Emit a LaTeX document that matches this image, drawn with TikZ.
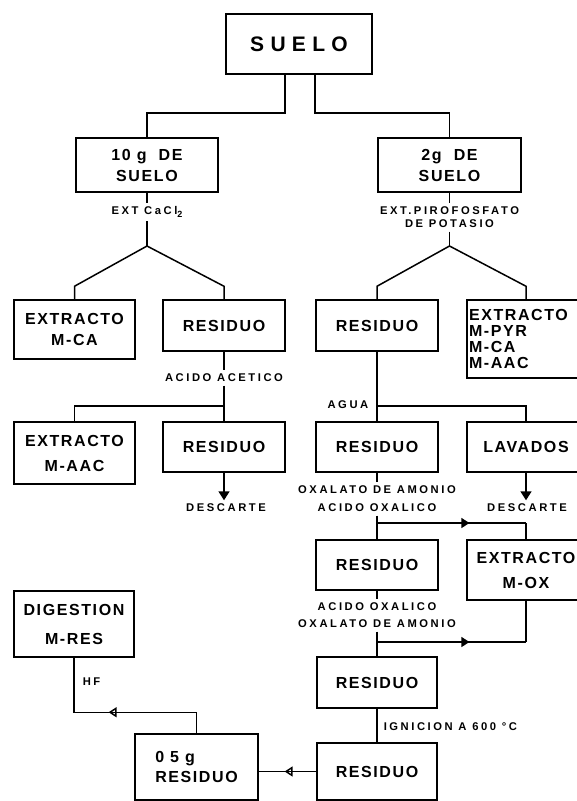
\documentclass[tikz,border=0pt]{standalone}
\usepackage{fontspec}
\usepackage{tikz}
\usetikzlibrary{arrows.meta,decorations.markings}
\newfontfamily\lettering[LetterSpace=10]{Liberation Sans}
\newfontfamily\smallletter[LetterSpace=23]{Liberation Sans}
\newfontfamily\bigletter[LetterSpace=30]{Liberation Sans}

\begin{document}
\begin{tikzpicture}[x=1pt,y=-1pt,line width=1.5pt]
\tikzset{every node/.style={font=\lettering\bfseries\fontsize{16}{19}\selectfont,inner sep=0pt}}
\tikzset{box/.style={draw,line width=1.5pt,minimum width=122pt,minimum height=50pt,align=center}}
\tikzset{note/.style={font=\smallletter\bfseries\fontsize{11.2}{13}\selectfont,align=center,inner sep=3pt}}
\tikzset{down/.style={-{Triangle[width=11pt,length=9pt]}}}
\tikzset{midarrow/.style={postaction={decorate},decoration={markings,mark=at position #1 with {\arrow{Triangle[width=10pt,length=8pt]}}}}}
\tikzset{midopen/.style={postaction={decorate},decoration={markings,mark=at position #1 with {\arrow{Triangle[open,width=10pt,length=8pt]}}}}}

\useasboundingbox (0,0) rectangle (577,801);
\clip (0,0) rectangle (577,801);

\node[box,minimum width=146pt,minimum height=60pt,font=\bigletter\bfseries\fontsize{21}{24}\selectfont] (suelo) at (299,44) {SUELO};
\node[box,minimum width=142pt,minimum height=54pt] (tenG) at (147,165) {10 g~~DE\\[2pt]SUELO};
\node[box,minimum width=143pt,minimum height=54pt] (twoG) at (449.5,165) {2g~~DE\\[2pt]SUELO};
\draw ([xshift=-14pt]suelo.south) -- ++(0,38) -| (tenG);
\draw ([xshift=16pt]suelo.south) -- ++(0,38) -| (twoG);

\node[note] (extCa) at (147,212) {EXT CaCl\raisebox{-2.5pt}{\fontsize{9}{9}\selectfont 2}};
\node[note] (extPiro) at (449.5,217.5) {EXT.PIROFOSFATO\\DE POTASIO};
\coordinate (apexL) at (147,246);
\coordinate (apexR) at (449.5,246);
\draw (tenG) -- (extCa) -- (apexL);
\draw (twoG) -- (extPiro) -- (apexR);

\node[box,minimum width=121pt,minimum height=59pt] (exCA) at (74.5,329.5) {EXTRACTO\\[2pt]M-CA};
\node[box,minimum height=51pt] (resA) at (224,325.5) {RESIDUO};
\node[box,minimum height=51pt] (resB) at (377,325.5) {RESIDUO};
\node[box,minimum width=118pt,minimum height=78pt,align=left,text width=114pt,font=\lettering\bfseries\fontsize{16}{16.3}\selectfont] (exPYR) at (526,339) {EXTRACTO\\M-PYR\\M-CA\\M-AAC};
\draw (exCA.north) -- ++(0,-13) -- (apexL) -- ([yshift=13pt]resA.north) -- (resA.north);
\draw (resB.north) -- ++(0,-13) -- (apexR) -- ([yshift=13pt]exPYR.north) -- (exPYR.north);

\node[note] (acet) at (224,378) {ACIDO ACETICO};
\coordinate (jA) at (224,406);
\node[box,minimum width=121pt,minimum height=62pt] (exAAC) at (74.5,453) {EXTRACTO\\[6pt]M-AAC};
\node[box] (resC) at (224,447) {RESIDUO};
\draw (resA) -- (acet) -- (jA) -- (resC);
\draw (jA) -| (exAAC);

\coordinate (jB) at (377,406);
\node[note,anchor=east] (agua) at (372,405) {AGUA};
\node[box] (resD) at (377,447) {RESIDUO};
\node[box,minimum width=118pt] (lavados) at (526,447) {LAVADOS};
\draw (resB) -- (jB) -- (resD);
\draw (jB) -| (lavados);

\node[note] (descA) at (226,508) {DESCARTE};
\node[note] (descB) at (527,508) {DESCARTE};
\draw[down] (resC.south) -- (resC.south |- descA.north);
\draw[down] (lavados.south) -- (lavados.south |- descB.north);

\node[note] (oxA) at (377,499) {OXALATO DE AMONIO\\[5pt]ACIDO OXALICO};
\coordinate (jC) at (377,523);
\node[box] (resE) at (377,565) {RESIDUO};
\node[box,minimum width=118pt,minimum height=60pt] (exMOX) at (526,570) {EXTRACTO\\[6pt]M-OX};
\draw (resD) -- (oxA) -- (jC) -- (resE);
\draw[midarrow=0.62] (jC) -- (jC -| exMOX);
\draw (jC -| exMOX) -- (exMOX);

\node[note] (oxB) at (377,615.5) {ACIDO OXALICO\\[4pt]OXALATO DE AMONIO};
\coordinate (jD) at (377,642);
\node[box,minimum width=120pt,minimum height=51pt] (resF) at (377,682.5) {RESIDUO};
\draw (resE) -- (oxB) -- (jD) -- (resF);
\draw[midarrow=0.62] (jD) -- (jD -| exMOX);
\draw (jD -| exMOX) -- (exMOX);

\node[note,anchor=west] (ign) at (380,727) {IGNICION A 600 °C};
\node[box,minimum width=120pt,minimum height=57pt] (resG) at (377,771.5) {RESIDUO};
\draw (resF) -- (resG);

\node[box,minimum width=120pt,minimum height=66pt] (digest) at (74,624) {DIGESTION\\[10pt]M-RES};
\node[box,minimum width=123pt,minimum height=66pt,align=left] (resH) at (196.5,767) {0 5 g\\[1pt]RESIDUO};
\draw[midopen=0.55] (resG) -- (resG -| resH.east);
\draw[midopen=0.55] (resH.north) -- ++(0,-21) -| (digest);
\node[note,anchor=west] (hf) at (79,682) {HF};

\end{tikzpicture}
\end{document}
